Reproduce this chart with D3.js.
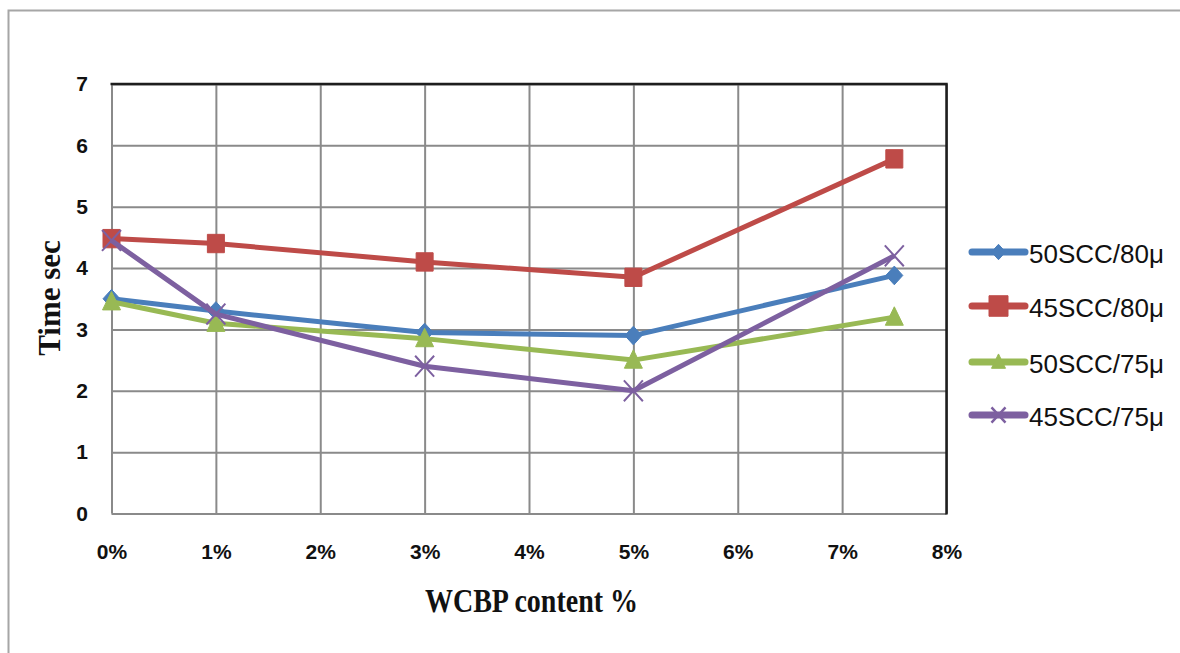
<!DOCTYPE html>
<html>
<head>
<meta charset="utf-8">
<script src="https://cdn.jsdelivr.net/npm/d3@7/dist/d3.min.js"></script>
<style>
  html, body { margin: 0; padding: 0; background: #fff; }
  svg { display: block; }
</style>
</head>
<body>
<svg id="chart" width="1180" height="653"></svg>
<script>
// WCBP content (%) on the x axis
const contentPct = [0, 1, 3, 5, 7.5];

// Time (sec) for each mix
const scc50_80 = [3.5, 3.3, 2.95, 2.9, 3.88];
const scc45_80 = [4.48, 4.4, 4.1, 3.85, 5.78];
const scc50_75 = [3.45, 3.1, 2.85, 2.5, 3.2];
const scc45_75 = [4.45, 3.25, 2.4, 2.0, 4.2];

const seriesNames = ["50SCC/80\u03bc", "45SCC/80\u03bc", "50SCC/75\u03bc", "45SCC/75\u03bc"];
const seriesValues = [scc50_80, scc45_80, scc50_75, scc45_75];
const seriesColors = ["#4a7ebb", "#be4b48", "#98b954", "#7d60a0"];
const seriesMarkers = ["diamond", "square", "triangle", "cross"];

const xTicks = [0, 1, 2, 3, 4, 5, 6, 7, 8];
const yTicks = [0, 1, 2, 3, 4, 5, 6, 7];

const svg = d3.select("#chart");

// outer frame
svg.append("rect")
  .attr("x", 8.5).attr("y", 10.5)
  .attr("width", 1200).attr("height", 700)
  .attr("fill", "none").attr("stroke", "#a6a6a6").attr("stroke-width", 2);

const plot = { left: 111.5, right: 946.5, top: 84, bottom: 513.5 };

const x = d3.scaleLinear().domain([0, 8]).range([plot.left, plot.right]);
const y = d3.scaleLinear().domain([0, 7]).range([plot.bottom, plot.top]);

const tickFont = "'Liberation Sans', Arial, sans-serif";

// horizontal grid + y labels
const yAxis = svg.append("g")
  .attr("transform", `translate(${plot.left},0)`)
  .call(d3.axisLeft(y).tickValues(yTicks).tickFormat(d3.format("d"))
    .tickSize(-(plot.right - plot.left)).tickPadding(23.5));
yAxis.select(".domain").remove();
yAxis.selectAll(".tick line").attr("stroke", "#8a8a8a").attr("stroke-width", 2);
yAxis.selectAll(".tick text")
  .attr("font-family", tickFont).attr("font-weight", "bold")
  .attr("font-size", 21).attr("fill", "#111");

// vertical grid + x labels
const xAxis = svg.append("g")
  .attr("transform", `translate(0,${plot.bottom})`)
  .call(d3.axisBottom(x).tickValues(xTicks).tickFormat(d => d + "%")
    .tickSize(-(plot.bottom - plot.top)).tickPadding(31));
xAxis.select(".domain").remove();
xAxis.selectAll(".tick line").attr("stroke", "#8a8a8a").attr("stroke-width", 2);
xAxis.selectAll(".tick text")
  .attr("font-family", tickFont).attr("font-weight", "bold")
  .attr("font-size", 21).attr("fill", "#111");

// darker top and right edges of the plot area
svg.append("path")
  .attr("d", `M${plot.left - 1},${plot.top}H${plot.right}V${plot.bottom + 1}`)
  .attr("fill", "none").attr("stroke", "#1e1e1e").attr("stroke-width", 2.5);

// marker shapes
function markerPath(type, s) {
  const h = s / 2;
  switch (type) {
    case "diamond": return `M0,${-h * 1.1}L${h},0L0,${h * 1.1}L${-h},0Z`;
    case "square": return `M${-h},${-h * 1.08}H${h}V${h * 1.08}H${-h}Z`;
    case "triangle": return `M0,${-h * 1.15}L${h},${h * 0.9}L${-h},${h * 0.9}Z`;
    case "cross": return `M${-h},${-h * 1.1}L${h},${h * 1.1}M${h},${-h * 1.1}L${-h},${h * 1.1}`;
  }
}
const markerSize = { diamond: 17, square: 17, triangle: 18, cross: 19 };

const line = d3.line().x(d => x(d.x)).y(d => y(d.v));

seriesValues.forEach((vals, i) => {
  const pts = contentPct.map((c, j) => ({ x: c, v: vals[j] }));
  const g = svg.append("g");
  g.append("path")
    .attr("d", line(pts))
    .attr("fill", "none")
    .attr("stroke", seriesColors[i])
    .attr("stroke-width", 5)
    .attr("stroke-linejoin", "round");
  const type = seriesMarkers[i];
  g.selectAll("path.mk").data(pts).join("path")
    .attr("class", "mk")
    .attr("transform", d => `translate(${x(d.x)},${y(d.v)})`)
    .attr("d", markerPath(type, markerSize[type]))
    .attr("fill", type === "cross" ? "none" : seriesColors[i])
    .attr("stroke", seriesColors[i])
    .attr("stroke-width", type === "cross" ? 2 : 1);
});

// axis titles
svg.append("text")
  .attr("transform", "translate(531.5,611.5) scale(1,1.22)")
  .attr("text-anchor", "middle")
  .attr("font-family", "'Liberation Serif', 'Times New Roman', serif")
  .attr("font-weight", "bold").attr("font-size", 28).attr("fill", "#111")
  .text("WCBP content %");

svg.append("text")
  .attr("transform", "translate(60,298) rotate(-90)")
  .attr("text-anchor", "middle")
  .attr("font-family", "'Liberation Serif', 'Times New Roman', serif")
  .attr("font-weight", "bold").attr("font-size", 31).attr("fill", "#111")
  .text("Time sec");

// legend
const legendY = [252, 306, 362, 415];
const legend = svg.append("g");
seriesNames.forEach((name, i) => {
  const ly = legendY[i];
  legend.append("line")
    .attr("x1", 972).attr("x2", 1025).attr("y1", ly).attr("y2", ly)
    .attr("stroke", seriesColors[i]).attr("stroke-width", 7)
    .attr("stroke-linecap", "round");
  const type = seriesMarkers[i];
  legend.append("path")
    .attr("transform", `translate(998.5,${ly})`)
    .attr("d", markerPath(type, type === "square" ? 19 : 14))
    .attr("fill", type === "cross" ? "none" : seriesColors[i])
    .attr("stroke", seriesColors[i])
    .attr("stroke-width", type === "cross" ? 2.5 : 1);
  legend.append("text")
    .attr("x", 1029).attr("y", ly + 10.5)
    .attr("font-family", "'Liberation Sans', Arial, sans-serif")
    .attr("font-size", 26).attr("fill", "#111")
    .text(name);
});
</script>
</body>
</html>
